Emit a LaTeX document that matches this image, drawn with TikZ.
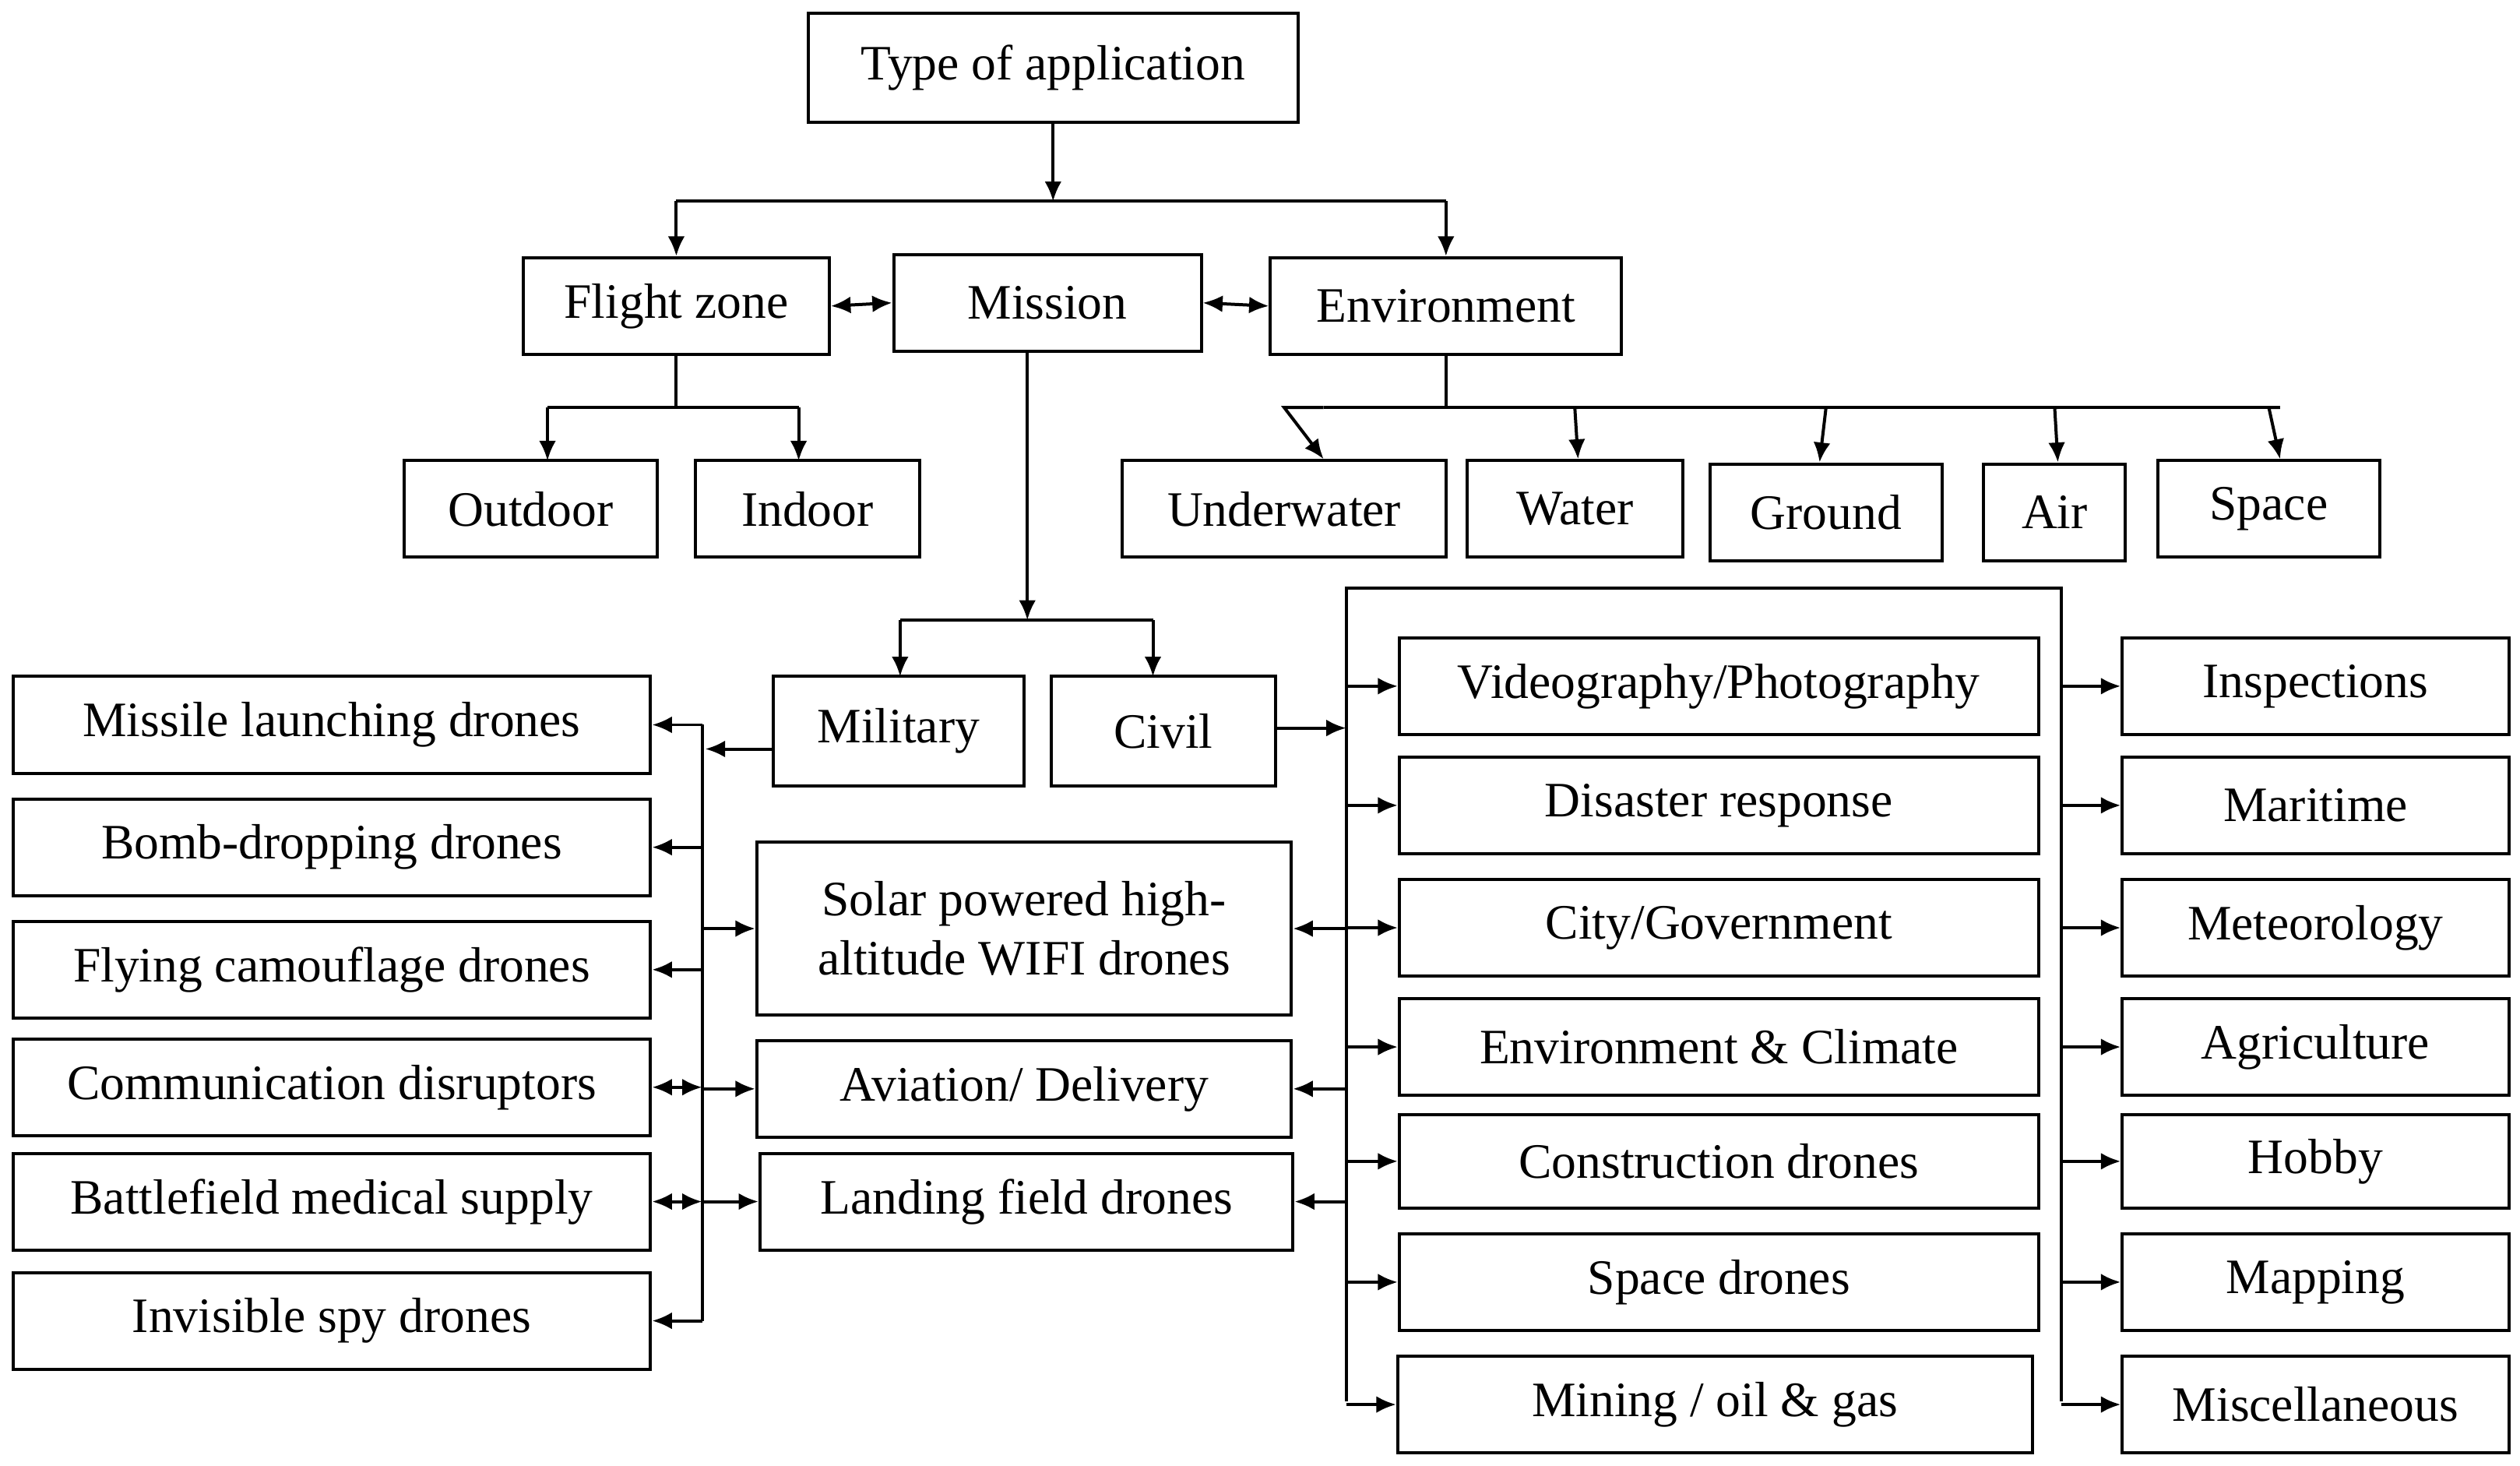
\documentclass[tikz,border=0pt]{standalone}
\usepackage{fontspec}
\setmainfont{Liberation Serif}
\usetikzlibrary{arrows.meta}
\begin{document}
\begin{tikzpicture}[x=0.02cm,y=-0.02cm,
  box/.style={draw,line width=1.1pt,inner sep=0pt,align=center,font=\fontsize{17.5}{21}\selectfont},
  ar/.style={line width=1.1pt,-{Latex[length=7pt,width=6pt]}},
  da/.style={line width=1.1pt,{Latex[length=7pt,width=6pt]}-{Latex[length=7pt,width=6pt]}},
  ln/.style={line width=1.1pt}]
\useasboundingbox (0,0) rectangle (1565,910);
\newcommand\bx[6]{\node[box,minimum width={(#4-#2)*0.02cm},minimum height={(#5-#3)*0.02cm}] (#1) at ({(#2+#4)/2},{(#3+#5)/2}) {#6};}
\bx{type}{502}{8}{806}{76}{Type of application}
\bx{fz}{325}{160}{515}{220}{Flight zone}
\bx{mis}{555}{158}{746}{218}{Mission}
\bx{env}{789}{160}{1007}{220}{Environment}
\bx{out}{251}{286}{408}{346}{Outdoor}
\bx{ind}{432}{286}{571}{346}{Indoor}
\bx{uw}{697}{286}{898}{346}{Underwater}
\bx{wat}{911}{286}{1045}{346}{Water}
\bx{gr}{1062}{288}{1206}{348}{Ground}
\bx{air}{1232}{288}{1320}{348}{Air}
\bx{spc}{1340}{286}{1478}{346}{Space}
\bx{mil}{480}{420}{636}{488}{Military}
\bx{civ}{653}{420}{792}{488}{Civil}
\bx{l1}{8}{420}{404}{480}{Missile launching drones}
\bx{l2}{8}{496}{404}{556}{Bomb-dropping drones}
\bx{l3}{8}{572}{404}{632}{Flying camouflage drones}
\bx{l4}{8}{645}{404}{705}{Communication disruptors}
\bx{l5}{8}{716}{404}{776}{Battlefield medical supply}
\bx{l6}{8}{790}{404}{850}{Invisible spy drones}
\bx{m1}{470}{523}{802}{630}{Solar powered high-\\altitude WIFI drones}
\bx{m2}{470}{646}{802}{706}{Aviation/ Delivery}
\bx{m3}{472}{716}{803}{776}{Landing field drones}
\bx{c1}{869}{396}{1266}{456}{Videography/Photography}
\bx{c2}{869}{470}{1266}{530}{Disaster response}
\bx{c3}{869}{546}{1266}{606}{City/Government}
\bx{c4}{869}{620}{1266}{680}{Environment \& Climate}
\bx{c5}{869}{692}{1266}{750}{Construction drones}
\bx{c6}{869}{766}{1266}{826}{Space drones}
\bx{c7}{868}{842}{1262}{902}{Mining / oil \& gas}
\bx{r1}{1318}{396}{1558}{456}{Inspections}
\bx{r2}{1318}{470}{1558}{530}{Maritime}
\bx{r3}{1318}{546}{1558}{606}{Meteorology}
\bx{r4}{1318}{620}{1558}{680}{Agriculture}
\bx{r5}{1318}{692}{1558}{750}{Hobby}
\bx{r6}{1318}{766}{1558}{826}{Mapping}
\bx{r7}{1318}{842}{1558}{902}{Miscellaneous}
% top tree
\coordinate (j0) at (654,125);
\draw[ar] (type.south) -- (j0);
\draw[ln] (fz.north |- j0) -- (env.north |- j0);
\draw[ar] (fz.north |- j0) -- (fz.north);
\draw[ar] (env.north |- j0) -- (env.north);
\draw[da] (fz.east) -- (mis.west);
\draw[da] (mis.east) -- (env.west);
% flight zone
\coordinate (j1) at (420,253);
\draw[ln] (fz.south) -- (j1);
\draw[ln] (340,253) -- (496,253);
\draw[ar] (340,253) -- (340,286);
\draw[ar] (496,253) -- (496,286);
% environment
\coordinate (j2) at (898,253);
\draw[ln] (env.south) -- (j2);
\draw[ln] (822,253) -- (1416,253);
\foreach \x/\n in {822/uw,980/wat,1130/gr,1278/air,1416/spc}
  \draw[ar] (\x,253) -- (\x,253 -| \n.north) -- (\n.north -| \x,0);
% mission
\coordinate (j3) at (638,385);
\draw[ar] (mis.south -| 638,0) -- (j3);
\draw[ln] (559,385) -- (716,385);
\draw[ar] (559,385) -- (559,420);
\draw[ar] (716,385) -- (716,420);
% military
\coordinate (lv) at (436,450);
\coordinate (lvb) at (436,820);
\draw[ln] (lv) -- (lvb);
\draw[ar] (mil.west |- 0,465) -- (438,465);
\foreach \n in {l1,l2,l3,l6} \draw[ar] (lv |- \n.east) -- (\n.east);
\foreach \n in {l4,l5} \draw[da] (\n.east) -- (lv |- \n.east);
\foreach \n in {m1,m2,m3} \draw[ar] (lv |- \n.west) -- (\n.west);
% civil
\coordinate (cv) at (836,365);
\coordinate (cr) at (1280,365);
\draw[ln] (836,870) -- (cv) -- (cr) -- (1280,870);
\draw[ar] (civ.east |- 0,452) -- (836,452);
\foreach \n/\y in {c1/426,c2/500,c3/576,c4/650,c5/721,c6/796,c7/872}
  \draw[ar] (836,\y) -- (\n.west |- 0,\y);
\foreach \n in {m1,m2,m3} \draw[ar] (cv |- \n.east) -- (\n.east);
\foreach \n in {r1,r2,r3,r4,r5,r6,r7}
  \draw[ar] (cr |- \n.west) -- (\n.west);
\end{tikzpicture}
\end{document}
